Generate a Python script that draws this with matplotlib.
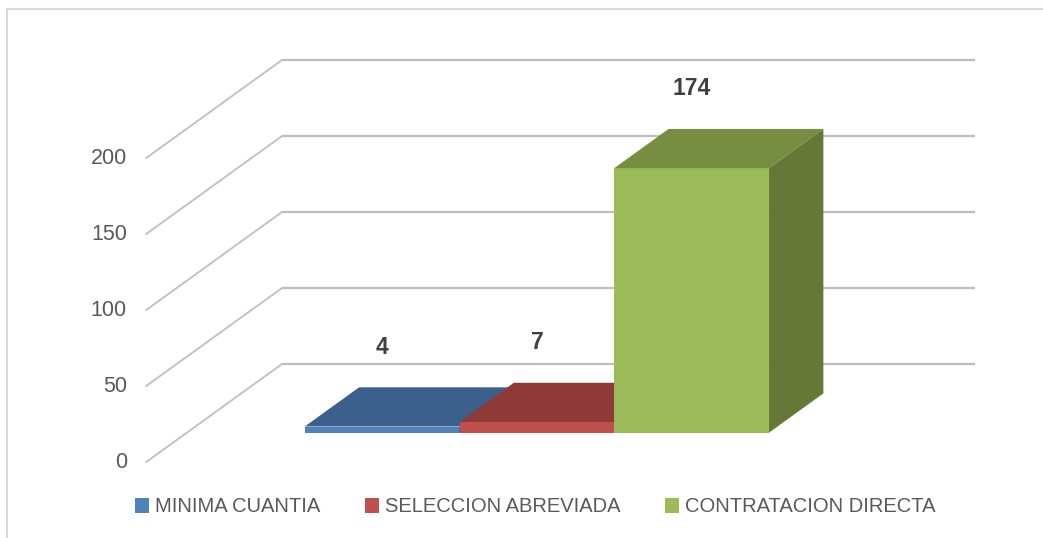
import matplotlib
matplotlib.use('Agg')
import matplotlib.pyplot as plt
import matplotlib.patches as patches
from matplotlib.lines import Line2D

plt.rcParams['font.family'] = ['Liberation Sans', 'DejaVu Sans']

# data
series = ['MINIMA CUANTIA', 'SELECCION ABREVIADA', 'CONTRATACION DIRECTA']
values = [4, 7, 174]
yticks = [0, 50, 100, 150, 200]

front_colors = ['#4F81BD', '#C0504D', '#9BBB59']
top_colors = ['#3B608C', '#8F3A39', '#768D42']
side_colors = ['#355679', '#7A3130', '#657836']

# fake 3D geometry (x in category units of the back wall, y in values)
DX, DY = 0.196, 64.5          # floor depth offset (back -> front)
f0, f1 = 0.30, 0.70            # bar depth span, measured from the front
group_w = 0.67
group_c = 0.505
bar_w = group_w / len(values)
grid_c = '#BFBFBF'
text_c = '#595959'

fig = plt.figure(figsize=(10.43, 5.38), dpi=100)
ax = fig.add_axes([0, 0, 1, 1])
ax.set_xlim(-282 / 693, (1043 - 282) / 693)
ax.set_ylim(-(538 - 364) / 1.52, 364 / 1.52)
ax.axis('off')

# outer frame (top + left)
fig.add_artist(Line2D([7 / 1043, 7 / 1043], [0, 1 - 9 / 538], color='#D9D9D9', lw=1.5))
fig.add_artist(Line2D([7 / 1043, 1], [1 - 9 / 538, 1 - 9 / 538], color='#D9D9D9', lw=1.5))

# gridlines: back wall + floor diagonals
for v in yticks:
    ax.plot([0, 1], [v, v], color=grid_c, lw=1.6, zorder=1, solid_capstyle='butt')
    ax.plot([-DX, 0], [v - DY, v], color=grid_c, lw=1.3, zorder=1)
    ax.text(-DX - 0.028, v - DY, str(v), ha='right', va='center',
            fontsize=15.5, color=text_c)


def off(f):
    # offset of a point at depth f (from the front) relative to back wall
    return -(1 - f) * DX, -(1 - f) * DY


ox0, oy0 = off(f0)
ox1, oy1 = off(f1)
start = group_c - group_w / 2
for i, (v, name) in enumerate(zip(values, series)):
    x0 = start + i * bar_w
    x1 = x0 + bar_w
    z = 3 + i
    # front face
    ax.add_patch(patches.Polygon([(x0 + ox0, oy0), (x1 + ox0, oy0), (x1 + ox0, v + oy0), (x0 + ox0, v + oy0)],
                                 closed=True, facecolor=front_colors[i], edgecolor='none', zorder=z))
    # top face
    ax.add_patch(patches.Polygon([(x0 + ox0, v + oy0), (x1 + ox0, v + oy0), (x1 + ox1, v + oy1), (x0 + ox1, v + oy1)],
                                 closed=True, facecolor=top_colors[i], edgecolor='none', zorder=z))
    # right side face
    ax.add_patch(patches.Polygon([(x1 + ox0, oy0), (x1 + ox1, oy1), (x1 + ox1, v + oy1), (x1 + ox0, v + oy0)],
                                 closed=True, facecolor=side_colors[i], edgecolor='none', zorder=z))
    ax.text((x0 + x1) / 2 + ox0, v + 7, str(v), ha='center', va='center',
            fontsize=16.5, fontweight='bold', color='#404040', zorder=10)

handles = [patches.Patch(facecolor=c, edgecolor='none') for c in front_colors]
leg = ax.legend(handles, series, loc='center', bbox_to_anchor=(535 / 1043, 1 - 507 / 538),
                bbox_transform=fig.transFigure, ncol=3, frameon=False, fontsize=14.5,
                handlelength=0.7, handleheight=0.7, handletextpad=0.3, columnspacing=2.2)
for t in leg.get_texts():
    t.set_color(text_c)

fig.savefig('out.png', dpi=100)
